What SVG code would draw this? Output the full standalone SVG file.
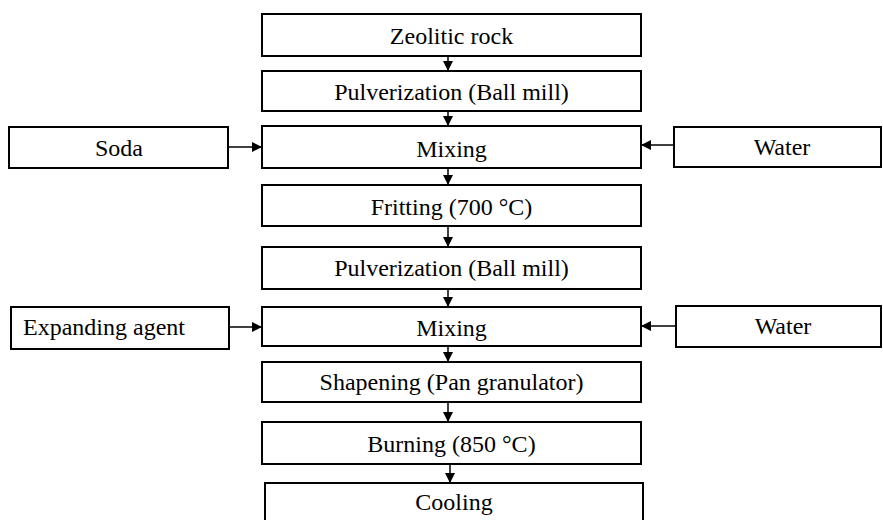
<svg xmlns="http://www.w3.org/2000/svg" width="883" height="520" viewBox="0 0 883 520">
  <style>
    .box { fill: #ffffff; stroke: #000000; stroke-width: 2; }
    .lbl { font-family: "Liberation Serif", "Times New Roman", serif; font-size: 24px; fill: #000000; text-anchor: middle; }
    .lft { text-anchor: start; }
    .wire { stroke: #000000; stroke-width: 1.5; fill: none; }
  </style>
  <defs>
    <marker id="arrow" markerWidth="10" markerHeight="10" refX="10" refY="5" orient="auto" markerUnits="userSpaceOnUse">
      <path d="M0,0 L10,5 L0,10 Z" fill="#000000"/>
    </marker>
  </defs>
  <rect width="883" height="520" fill="#ffffff"/>

  <!-- process steps -->
  <g id="zeolitic-rock"><rect class="box" x="262" y="14" width="379" height="42"/><text class="lbl" x="451.5" y="44">Zeolitic rock</text></g>
  <g id="pulverization-1"><rect class="box" x="262" y="71" width="379" height="40"/><text class="lbl" x="451.5" y="100">Pulverization (Ball mill)</text></g>
  <g id="mixing-1"><rect class="box" x="262" y="126" width="379" height="42"/><text class="lbl" x="451.5" y="156.5">Mixing</text></g>
  <g id="soda"><rect class="box" x="9" y="127" width="219" height="41"/><text class="lbl" x="119" y="156">Soda</text></g>
  <g id="water-1"><rect class="box" x="674" y="127" width="207" height="40"/><text class="lbl" x="782" y="155">Water</text></g>
  <g id="fritting"><rect class="box" x="262" y="185" width="379" height="41"/><text class="lbl" x="451.5" y="215">Fritting (700 °C)</text></g>
  <g id="pulverization-2"><rect class="box" x="262" y="247" width="379" height="42"/><text class="lbl" x="451.5" y="276">Pulverization (Ball mill)</text></g>
  <g id="mixing-2"><rect class="box" x="262" y="307" width="379" height="39"/><text class="lbl" x="451.5" y="335.5">Mixing</text></g>
  <g id="expanding-agent"><rect class="box" x="11" y="307" width="218" height="42"/><text class="lbl lft" x="23" y="335">Expanding agent</text></g>
  <g id="water-2"><rect class="box" x="676" y="306" width="205" height="41"/><text class="lbl" x="783" y="334">Water</text></g>
  <g id="shapening"><rect class="box" x="262" y="362" width="379" height="40"/><text class="lbl" x="451.5" y="390">Shapening (Pan granulator)</text></g>
  <g id="burning"><rect class="box" x="262" y="422" width="379" height="42"/><text class="lbl" x="451.5" y="451.5">Burning (850 °C)</text></g>
  <g id="cooling"><rect class="box" x="265" y="483" width="378" height="45"/><text class="lbl" x="454" y="510">Cooling</text></g>

  <!-- flow arrows -->
  <g id="connectors">
    <line class="wire" x1="448" y1="55" x2="448" y2="71" marker-end="url(#arrow)"/>
    <line class="wire" x1="448" y1="110" x2="448" y2="126" marker-end="url(#arrow)"/>
    <line class="wire" x1="448" y1="167" x2="448" y2="185" marker-end="url(#arrow)"/>
    <line class="wire" x1="448" y1="225" x2="448" y2="247" marker-end="url(#arrow)"/>
    <line class="wire" x1="448" y1="288" x2="448" y2="307" marker-end="url(#arrow)"/>
    <line class="wire" x1="448" y1="345" x2="448" y2="362" marker-end="url(#arrow)"/>
    <line class="wire" x1="448" y1="401" x2="448" y2="422" marker-end="url(#arrow)"/>
    <line class="wire" x1="450" y1="463" x2="450" y2="483" marker-end="url(#arrow)"/>
    <line class="wire" x1="228" y1="147" x2="262" y2="147" marker-end="url(#arrow)"/>
    <line class="wire" x1="674" y1="145" x2="641" y2="145" marker-end="url(#arrow)"/>
    <line class="wire" x1="229" y1="327" x2="262" y2="327" marker-end="url(#arrow)"/>
    <line class="wire" x1="676" y1="326" x2="641" y2="326" marker-end="url(#arrow)"/>
  </g>
</svg>
